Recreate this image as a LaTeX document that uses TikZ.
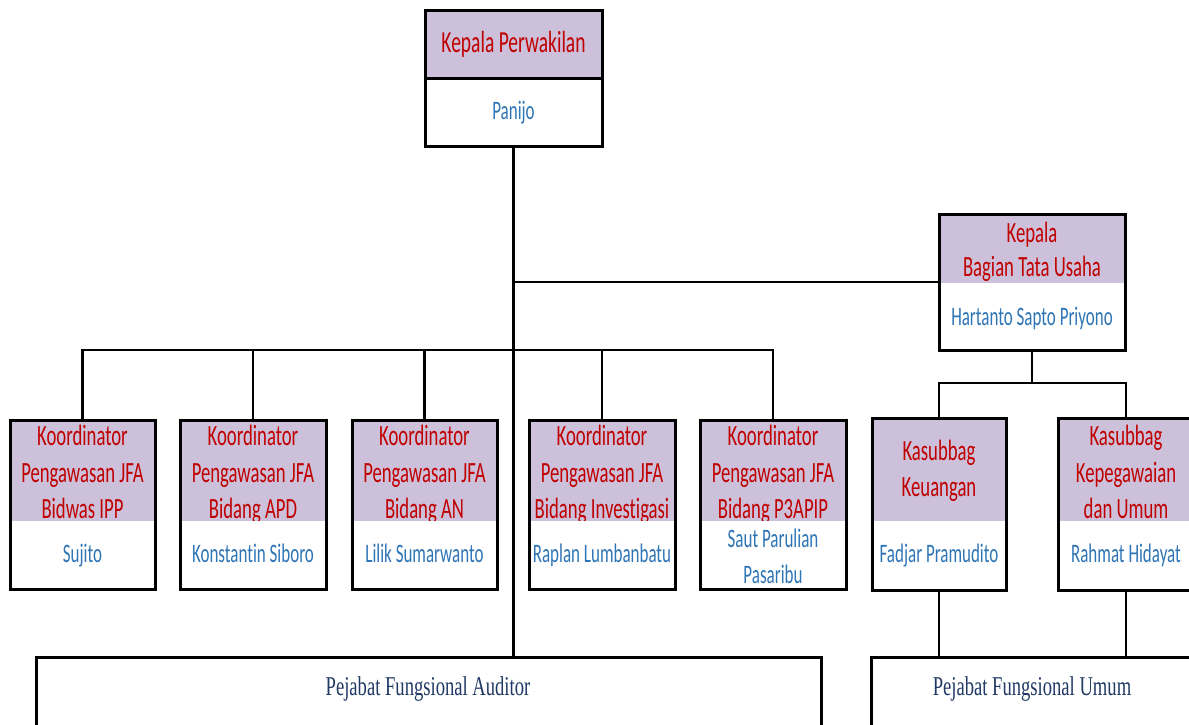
\documentclass[tikz,border=0pt]{standalone}
\usepackage{fontspec}
\usepackage{graphicx}
\newfontfamily\calib[Ligatures=NoCommon]{Carlito}
\newfontfamily\bookser{Liberation Serif}
\definecolor{hdrfill}{RGB}{204,192,218}
\definecolor{redtxt}{RGB}{192,0,0}
\definecolor{bluetxt}{RGB}{46,117,182}
\definecolor{navytxt}{RGB}{31,56,100}
\newcommand\vs[2][1.57]{\scalebox{1}[#1]{\begin{tabular}{@{}c@{}}#2\end{tabular}}}
\tikzset{
  frame/.style={draw=black, line width=3pt, inner sep=0pt, outer sep=0pt, anchor=north west},
  conn/.style={draw=black, line width=2.6pt},
  hdr/.style={fill=hdrfill},
  htxt/.style={inner sep=0pt, text=redtxt, font=\calib\fontsize{18.7}{23.2}\selectfont},
  btxt/.style={inner sep=0pt, text=bluetxt, font=\calib\fontsize{17}{23}\selectfont},
  ftxt/.style={inner sep=0pt, text=navytxt, font=\bookser\fontsize{18.6}{20}\selectfont},
}
\begin{document}
\begin{tikzpicture}[x=1pt,y=-1pt]
\useasboundingbox (0,0) rectangle (1189,724);
\clip (0,0) rectangle (1189,724);
% header fills
\fill[hdr] (425,10) rectangle (602,78);
\fill[hdr] (939,214) rectangle (1125,283);
\fill[hdr] (10,420) rectangle (155,521);
\fill[hdr] (180,420) rectangle (326,521);
\fill[hdr] (352,420) rectangle (497,521);
\fill[hdr] (529,420) rectangle (675,521);
\fill[hdr] (700,420) rectangle (846,521);
\fill[hdr] (872,418) rectangle (1006,521);
\fill[hdr] (1058,418) rectangle (1194,521);
% header texts
\node[htxt, font=\calib\fontsize{19.5}{23}\selectfont] (toph) at (513.5,45) {\vs{Kepala Perwakilan}};
\node[htxt, font=\calib\fontsize{18.7}{21.7}\selectfont] (kbtuh) at (1032,253) {\vs{Kepala\\Bagian Tata Usaha}};
\node[htxt] (k1h) at (82.5,475) {\vs{Koordinator\\Pengawasan JFA\\Bidwas IPP}};
\node[htxt] (k2h) at (253,475) {\vs{Koordinator\\Pengawasan JFA\\Bidang APD}};
\node[htxt] (k3h) at (424.5,475) {\vs{Koordinator\\Pengawasan JFA\\Bidang AN}};
\node[htxt] (k4h) at (602,475) {\vs{Koordinator\\Pengawasan JFA\\Bidang Investigasi}};
\node[htxt] (k5h) at (773,475) {\vs{Koordinator\\Pengawasan JFA\\Bidang P3APIP}};
\node[htxt] (ks1h) at (939,471) {\vs{Kasubbag\\Keuangan}};
\node[htxt] (ks2h) at (1126,475) {\vs{Kasubbag\\Kepegawaian\\dan Umum}};
% body whites (cover descenders)
\fill[white] (10,521) rectangle (155,589);
\fill[white] (180,521) rectangle (326,589);
\fill[white] (352,521) rectangle (497,589);
\fill[white] (529,521) rectangle (675,589);
\fill[white] (700,521) rectangle (846,589);
\fill[white] (872,521) rectangle (1006,590);
\fill[white] (1058,521) rectangle (1194,590);
% body texts
\node[btxt] (topb) at (513.5,112) {\vs{Panijo}};
\node[btxt] (kbtub) at (1032,318) {\vs{Hartanto Sapto Priyono}};
\node[btxt] (k1b) at (82.5,555) {\vs{Sujito}};
\node[btxt] (k2b) at (253,555) {\vs{Konstantin Siboro}};
\node[btxt] (k3b) at (424.5,555) {\vs{Lilik Sumarwanto}};
\node[btxt] (k4b) at (602,555) {\vs{Raplan Lumbanbatu}};
\node[btxt] (k5b) at (773,558) {\vs{Saut Parulian\\Pasaribu}};
\node[btxt] (ks1b) at (939,555) {\vs{Fadjar Pramudito}};
\node[btxt] (ks2b) at (1126,555) {\vs{Rahmat Hidayat}};
\node[ftxt] (audt) at (428,690) {\vs[1.46]{Pejabat Fungsional Auditor}};
\node[ftxt] (umumt) at (1032,690) {\vs[1.46]{Pejabat Fungsional Umum}};
% frames
\node[frame, minimum width=177pt, minimum height=136pt] (top) at (425,10) {};
\node[frame, minimum width=186pt, minimum height=136pt] (kbtu) at (939,214) {};
\node[frame, minimum width=145pt, minimum height=169pt] (k1) at (10,420) {};
\node[frame, minimum width=146pt, minimum height=169pt] (k2) at (180,420) {};
\node[frame, minimum width=145pt, minimum height=169pt] (k3) at (352,420) {};
\node[frame, minimum width=146pt, minimum height=169pt] (k4) at (529,420) {};
\node[frame, minimum width=146pt, minimum height=169pt] (k5) at (700,420) {};
\node[frame, minimum width=134pt, minimum height=172pt] (ks1) at (872,418) {};
\node[frame, minimum width=136pt, minimum height=172pt] (ks2) at (1058,418) {};
\node[frame, minimum width=785pt, minimum height=90pt] (aud) at (36,657) {};
\node[frame, minimum width=330pt, minimum height=90pt] (umum) at (871,657) {};
\draw[line width=3pt] ([yshift=-68pt]top.north west) -- ([yshift=-68pt]top.north east);
% connectors
\coordinate (tubus) at (1032,383);
\draw[conn] (top.south) -- (top.south |- aud.north);
\draw[conn] (top.south |- kbtu.west) -- (kbtu.west);
\draw[conn] (k1.north) -- (k1.north |- kbtu.south) -- (k5.north |- kbtu.south) -- (k5.north);
\draw[conn] (k2.north) -- (k2.north |- kbtu.south);
\draw[conn] (k3.north) -- (k3.north |- kbtu.south);
\draw[conn] (k4.north) -- (k4.north |- kbtu.south);
\draw[conn] (kbtu.south) -- (tubus);
\draw[conn] (ks1.north) -- (ks1.north |- tubus) -- (ks2.north |- tubus) -- (ks2.north);
\draw[conn] (ks1.south) -- (ks1.south |- umum.north);
\draw[conn] (ks2.south) -- (ks2.south |- umum.north);
\end{tikzpicture}
\end{document}
